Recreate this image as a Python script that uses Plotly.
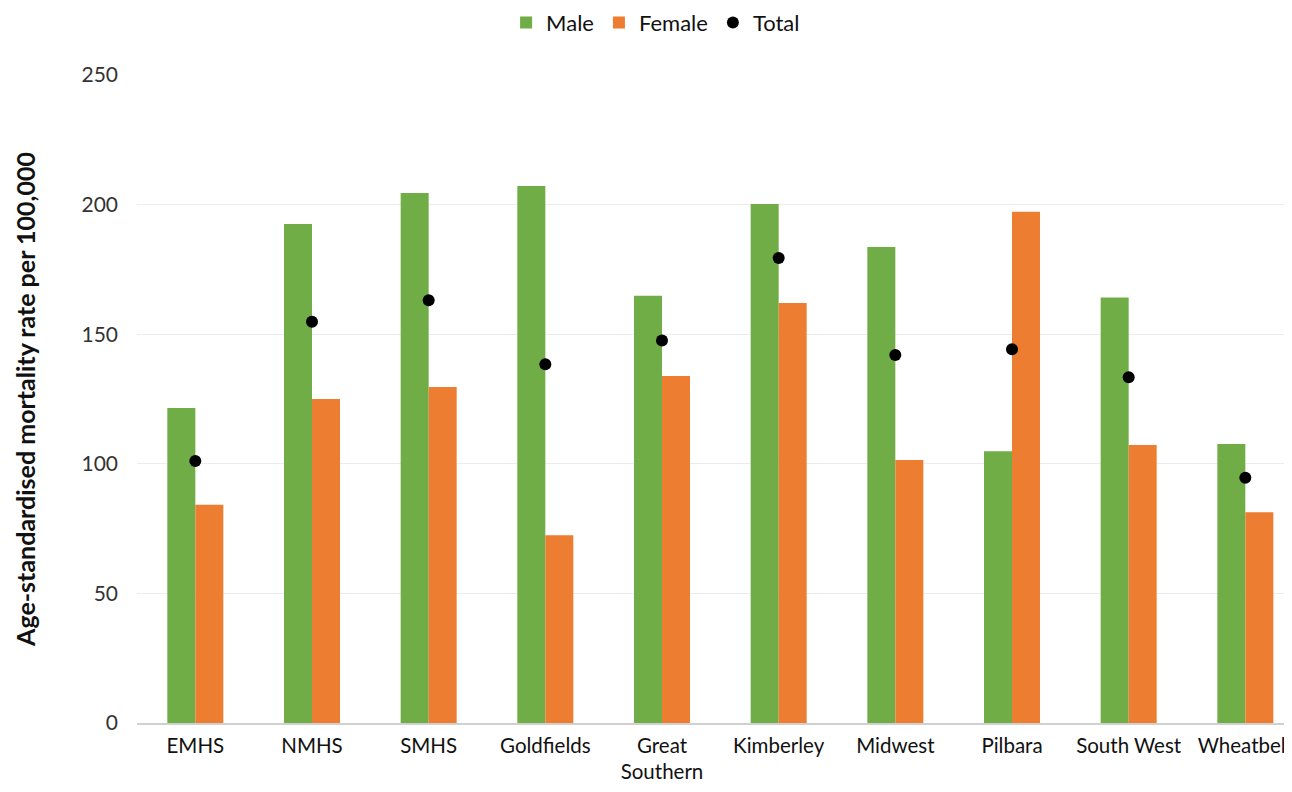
import plotly.graph_objects as go

categories = ["EMHS", "NMHS", "SMHS", "Goldfields", "Great<br>Southern", "Kimberley",
              "Midwest", "Pilbara", "South West", "Wheatbelt"]
male = [121.5, 192.5, 204.5, 207.2, 164.8, 200.2, 183.6, 104.8, 164.2, 107.6]
female = [84.2, 125.0, 129.6, 72.4, 133.9, 162.0, 101.5, 197.2, 107.3, 81.3]
total = [101.1, 154.8, 163.1, 138.4, 147.6, 179.4, 142.0, 144.2, 133.4, 94.6]
y_ticks = [0, 50, 100, 150, 200, 250]

FONT = "Lato, Open Sans, sans-serif"

fig = go.Figure()
fig.add_trace(go.Bar(name="Male", x=categories, y=male, marker_color="#70AD47",
                     marker_line_width=0))
fig.add_trace(go.Bar(name="Female", x=categories, y=female, marker_color="#ED7D31",
                     marker_line_width=0))
fig.add_trace(go.Scatter(name="Total", x=categories, y=total, mode="markers",
                         marker=dict(color="black", size=12)))

fig.update_layout(
    width=1284, height=776,
    barmode="group", bargap=0.52, bargroupgap=0,
    plot_bgcolor="white", paper_bgcolor="white",
    margin=dict(l=129, r=0, t=67, b=61, autoexpand=False),
    font=dict(family=FONT, size=20, color="#222"),
    legend=dict(orientation="h", x=0.449, xanchor="center", y=1.113, yanchor="top",
                yref="paper", font=dict(size=22, color="#111"), itemwidth=30,
                traceorder="normal"),
    showlegend=True,
)
fig.update_xaxes(range=[-0.5, 9.4], showgrid=False, showline=True,
                 linecolor="#d0d0d0", linewidth=2, ticks="", tickangle=0,
                 ticklabelstandoff=3, automargin=False,
                 tickfont=dict(size=20.5, color="#111"))
fig.update_yaxes(range=[0, 250], tickvals=y_ticks, showgrid=True,
                 gridcolor="#ececec", gridwidth=1, zeroline=False,
                 ticks="", ticklen=0, ticklabelstandoff=18, automargin=False,
                 tickfont=dict(size=21, color="#333"),
                 title=dict(text="<b>Age-standardised mortality rate per 100,000</b>",
                            font=dict(size=25, color="#111"), standoff=38))

fig.write_html("out.html")
